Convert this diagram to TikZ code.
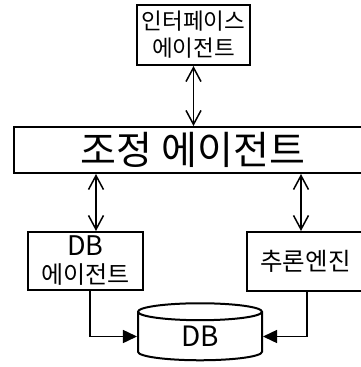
\documentclass[tikz,border=0pt]{standalone}
\usepackage{fontspec}
\setmainfont{Noto Sans CJK KR}
\usetikzlibrary{arrows.meta,shapes.geometric}
\tikzset{
  box/.style={draw,line width=2pt,inner sep=0pt,align=center,fill=white},
  link/.style={line width=1.5pt,{Straight Barb[length=14pt,width=15pt]}-{Straight Barb[length=14pt,width=15pt]}},
  feed/.style={line width=1.5pt,-{Triangle[length=14pt,width=13pt]}},
}
\begin{document}
\begin{tikzpicture}[x=1pt,y=-1pt]
\useasboundingbox (0,0) rectangle (361,367);
\node[box,minimum width=113pt,minimum height=60pt,font=\fontsize{22.5}{27}\selectfont] (iface) at (193.5,35) {인터페이스\\에이전트};
\node[box,minimum width=350pt,minimum height=46pt,font=\fontsize{39}{40}\selectfont] (coord) at (189,150) {\hspace*{8pt}조정 에이전트};
\node[box,minimum width=115pt,minimum height=58pt,font=\fontsize{24}{28}\selectfont] (dbag) at (85.5,261) {{\fontsize{27}{28}\selectfont DB}\\에이전트};
\node[box,minimum width=117pt,minimum height=59pt,font=\fontsize{24.5}{28}\selectfont] (infer) at (305.5,261.5) {추론엔진};
\node[draw,line width=2pt,fill=white,cylinder,shape border rotate=90,aspect=0.45,minimum width=124pt,minimum height=57pt,inner sep=0pt,font=\fontsize{28}{30}\selectfont] (db) at (200,336.5) {DB};
\draw[link] (iface.south) -- (iface.south |- coord.north);
\draw[link] ([xshift=10.5pt]dbag.north |- coord.south) -- ([xshift=10.5pt]dbag.north);
\draw[link] ([xshift=-4.5pt]infer.north |- coord.south) -- ([xshift=-4.5pt]infer.north);
\draw[feed] ([xshift=4.5pt]dbag.south) |- (db.west);
\draw[feed] ([xshift=1.5pt]infer.south) |- (db.east);
\end{tikzpicture}
\end{document}
